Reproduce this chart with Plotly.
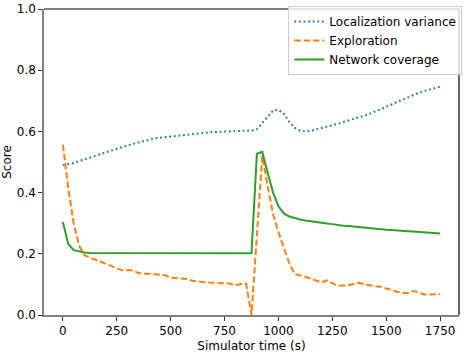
import plotly.graph_objects as go

time_s = [i * 25 for i in range(71)]

localization = [
    0.490, 0.493, 0.497, 0.503, 0.508, 0.514, 0.520, 0.526, 0.532, 0.538,
    0.544, 0.549, 0.554, 0.559, 0.564, 0.569, 0.574, 0.577, 0.579, 0.581,
    0.583, 0.586, 0.589, 0.591, 0.593, 0.595, 0.596, 0.597, 0.598, 0.599,
    0.600, 0.600, 0.601, 0.601, 0.602, 0.603, 0.607, 0.627, 0.650, 0.668,
    0.671, 0.658, 0.632, 0.612, 0.602, 0.600, 0.602, 0.606, 0.610, 0.615,
    0.620, 0.625, 0.630, 0.636, 0.641, 0.646, 0.652, 0.658, 0.665, 0.673,
    0.681, 0.688, 0.696, 0.704, 0.712, 0.719, 0.726, 0.732, 0.737, 0.742,
    0.746,
]

exploration = [
    0.557, 0.415, 0.300, 0.228, 0.195, 0.188, 0.180, 0.172, 0.167, 0.158,
    0.152, 0.146, 0.146, 0.146, 0.137, 0.136, 0.135, 0.134, 0.131, 0.130,
    0.122, 0.121, 0.120, 0.118, 0.112, 0.111, 0.108, 0.106, 0.106, 0.106,
    0.104, 0.103, 0.097, 0.101, 0.102, 0.000, 0.270, 0.520, 0.420, 0.330,
    0.270, 0.220, 0.170, 0.134, 0.130, 0.125, 0.119, 0.113, 0.106, 0.113,
    0.104, 0.095, 0.096, 0.097, 0.101, 0.105, 0.100, 0.096, 0.094, 0.092,
    0.086, 0.080, 0.076, 0.073, 0.071, 0.078, 0.074, 0.067, 0.067, 0.068,
    0.068,
]

coverage = [
    0.304, 0.232, 0.212, 0.207, 0.204, 0.203, 0.203, 0.203, 0.203, 0.203,
    0.203, 0.204, 0.204, 0.204, 0.203, 0.203, 0.203, 0.203, 0.202, 0.202,
    0.202, 0.202, 0.202, 0.202, 0.202, 0.202, 0.202, 0.202, 0.202, 0.202,
    0.202, 0.202, 0.202, 0.202, 0.202, 0.202, 0.527, 0.533, 0.465, 0.400,
    0.355, 0.332, 0.322, 0.316, 0.312, 0.309, 0.306, 0.303, 0.301, 0.299,
    0.297, 0.294, 0.292, 0.291, 0.289, 0.288, 0.286, 0.285, 0.283, 0.281,
    0.279, 0.278, 0.276, 0.275, 0.274, 0.273, 0.272, 0.270, 0.269, 0.268,
    0.266,
]

series_names = ["Localization variance", "Exploration", "Network coverage"]
x_ticks = [0, 250, 500, 750, 1000, 1250, 1500, 1750]
y_ticks = [0.0, 0.2, 0.4, 0.6, 0.8, 1.0]

FONT = "DejaVu Sans"

fig = go.Figure()
fig.add_trace(go.Scatter(x=time_s, y=localization, mode="lines", name=series_names[0],
                         line=dict(color="#1f77b4", width=2, dash="1.8px,2.8px")))
fig.add_trace(go.Scatter(x=time_s, y=exploration, mode="lines", name=series_names[1],
                         line=dict(color="#ff7f0e", width=2, dash="6.5px,2.8px")))
fig.add_trace(go.Scatter(x=time_s, y=coverage, mode="lines", name=series_names[2],
                         line=dict(color="#2ca02c", width=2)))

fig.update_layout(
    width=464, height=353,
    margin=dict(l=43, r=2, t=5, b=36),
    paper_bgcolor="white", plot_bgcolor="white",
    font=dict(family=FONT, size=12, color="black"),
    showlegend=True,
    legend=dict(x=1.008, xanchor="right", y=1.01, yanchor="top",
                bgcolor="rgba(255,255,255,0.8)", bordercolor="#cccccc", borderwidth=1,
                font=dict(size=12), tracegroupgap=0, itemwidth=30),
    shapes=[
        dict(type="line", xref="paper", yref="paper", x0=0, x1=1, y0=1, y1=1,
             line=dict(color="black", width=1.2)),
        dict(type="line", xref="paper", yref="paper", x0=1, x1=1, y0=0, y1=1,
             line=dict(color="black", width=1.2)),
    ],
)
fig.update_xaxes(range=[-87.5, 1837.5], tickvals=x_ticks, ticktext=[str(v) for v in x_ticks],
                 showgrid=False, zeroline=False, showline=True, linecolor="#808080", linewidth=1.5,
                 ticks="outside", ticklen=4, tickcolor="#333333", ticklabeloverflow="allow",
                 title=dict(text="Simulator time (s)", standoff=4, font=dict(size=12)))
fig.update_yaxes(range=[0, 1], tickvals=y_ticks, ticktext=[f"{v:.1f}" for v in y_ticks],
                 showgrid=False, zeroline=False, showline=True, linecolor="#808080", linewidth=1.5,
                 ticks="outside", ticklen=4, tickcolor="#333333", ticklabeloverflow="allow",
                 title=dict(text="Score", standoff=6, font=dict(size=12)))

fig.write_html("out.html", config={"displayModeBar": False},
               post_script="document.body.style.margin='0';document.body.style.overflow='hidden';")
